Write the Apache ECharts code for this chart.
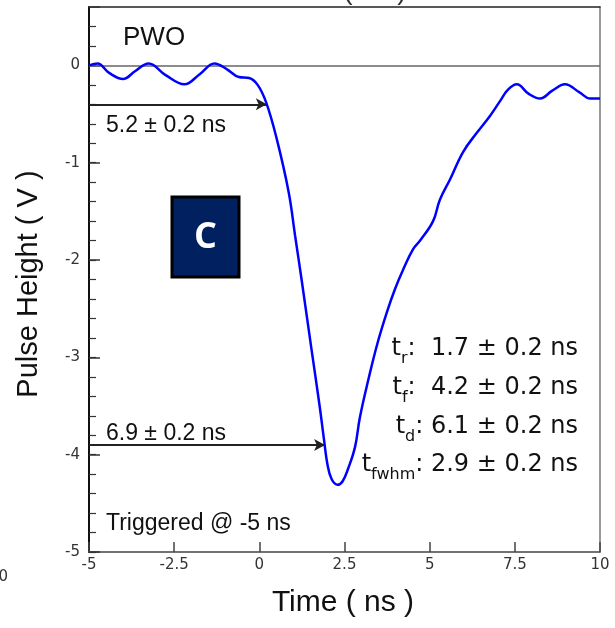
<!DOCTYPE html>
<html>
<head>
<meta charset="utf-8">
<script src="https://cdn.jsdelivr.net/npm/echarts@6/dist/echarts.min.js"></script>
<style>html,body{margin:0;padding:0;background:#fff;}#c{width:615px;height:628px;}</style>
</head>
<body>
<div id="c"></div>
<script>
// ---- data ----
var timeNs = [-5,-4.75,-4.4,-4,-3.65,-3.25,-2.75,-2.2,-1.75,-1.32,-0.95,-0.6,-0.3,-0.05,0.2,0.5,0.86,1.05,1.24,1.52,1.77,1.9,2.0,2.12,2.3,2.45,2.6,2.81,2.95,3.22,3.48,3.75,3.98,4.22,4.51,4.72,5.1,5.3,5.6,5.98,6.39,6.77,7.06,7.3,7.56,7.9,8.24,8.6,8.97,9.41,9.7,10];
var pulseV = [0,0.02,-0.08,-0.14,-0.06,0.02,-0.1,-0.195,-0.09,0.02,-0.04,-0.12,-0.13,-0.2,-0.38,-0.74,-1.3,-1.75,-2.2,-2.89,-3.5,-3.85,-4.1,-4.25,-4.31,-4.27,-4.15,-3.92,-3.62,-3.2,-2.84,-2.53,-2.3,-2.1,-1.89,-1.8,-1.6,-1.38,-1.17,-0.89,-0.69,-0.52,-0.37,-0.25,-0.195,-0.29,-0.34,-0.26,-0.195,-0.28,-0.34,-0.34];
var xTicks = [-5,-2.5,0,2.5,5,7.5,10];
var yTicks = [-5,-4,-3,-2,-1,0];
var arrow10 = [[-5,-0.4],[0.22,-0.4]];
var arrow90 = [[-5,-3.9],[1.93,-3.9]];
var annotations = ['5.2 \u00b1 0.2 ns','6.9 \u00b1 0.2 ns','Triggered @ -5 ns','PWO'];
var timingLines = ['t{s|r}:  1.7 \u00b1 0.2 ns','t{s|f}:  4.2 \u00b1 0.2 ns','t{s|d}: 6.1 \u00b1 0.2 ns','t{s|fwhm}: 2.9 \u00b1 0.2 ns'];

var FONT = '"Liberation Sans", Arial, Helvetica, sans-serif';
var WIDE = '"DejaVu Sans", sans-serif';
var line = [];
for (var i = 0; i < timeNs.length; i++) line.push([timeNs[i], pulseV[i]]);

var chart = echarts.init(document.getElementById('c'), null, {renderer:'canvas'});
var gridRect = {left:89, right:15, top:7, bottom:76};
var xmin = xTicks[0], xmax = xTicks[xTicks.length-1];
var ymin = yTicks[0], ymax = 0.6;

function intLabel(v){ var r = Math.round(v); return Math.abs(v - r) < 1e-6 ? String(r) : ''; }

var option = {
  animation:false,
  backgroundColor:'#fff',
  grid:[Object.assign({}, gridRect), Object.assign({}, gridRect)],
  xAxis:[
    {type:'value', gridIndex:0, position:'bottom', min:xmin, max:xmax, interval:2.5,
     axisLine:{onZero:false, lineStyle:{color:'#444', width:1.5}},
     axisTick:{inside:true, length:10, lineStyle:{color:'#444', width:1.5}},
     axisLabel:{margin:6, color:'#333', fontSize:15, fontFamily:WIDE,
       formatter:function(v){ return String(Math.round(v*10)/10); }},
     splitLine:{show:false}},
    {type:'value', gridIndex:0, position:'top', min:xmin, max:xmax,
     axisLine:{onZero:false, lineStyle:{color:'#222', width:1.5}},
     axisTick:{show:false}, axisLabel:{show:false}, splitLine:{show:false}},
    {type:'value', gridIndex:1, min:xmin, max:xmax, show:false}
  ],
  yAxis:[
    {type:'value', gridIndex:0, position:'left', min:ymin, max:ymax, interval:0.2,
     axisLine:{onZero:false, lineStyle:{color:'#111', width:2}},
     axisTick:{inside:true, length:7, lineStyle:{color:'#333', width:1.2}},
     axisLabel:{margin:9, color:'#333', fontSize:15, fontFamily:WIDE, formatter:intLabel,
       showMaxLabel:false},
     splitLine:{show:false}},
    {type:'value', gridIndex:0, position:'right', min:ymin, max:ymax,
     axisLine:{onZero:false, lineStyle:{color:'#777', width:1.5}},
     axisTick:{show:false}, axisLabel:{show:false}, splitLine:{show:false}},
    {type:'value', gridIndex:1, position:'left', min:ymin, max:ymax, interval:1,
     axisLine:{show:false, onZero:false},
     axisTick:{inside:true, length:11, lineStyle:{color:'#333', width:1.5}},
     axisLabel:{show:false}, splitLine:{show:false}}
  ],
  series:[
    {type:'line', xAxisIndex:0, yAxisIndex:0, data:line, smooth:0.4,
     showSymbol:false, lineStyle:{color:'#0000ff', width:2.5}, z:5,
     markLine:{silent:true, label:{show:false}, animation:false,
       data:[
         [{coord:[xmin,0], symbol:'none', lineStyle:{color:'#666', width:1.5, type:'solid'}},{coord:[xmax,0], symbol:'none'}],
         [{coord:arrow10[0], symbol:'none', lineStyle:{color:'#222', width:2, type:'solid'}},{coord:arrow10[1], symbol:'arrow', symbolSize:[9,11]}],
         [{coord:arrow90[0], symbol:'none', lineStyle:{color:'#222', width:2, type:'solid'}},{coord:arrow90[1], symbol:'arrow', symbolSize:[9,11]}]
       ]}}
  ],
  graphic:[
    {type:'text', x:29, y:284, rotation:Math.PI/2, style:{text:'Pulse Height ( V )', font:'29px '+FONT, fill:'#111', align:'center', verticalAlign:'middle'}},
    {type:'text', x:343, y:603, style:{text:'Time ( ns )', font:'30px '+FONT, fill:'#111', align:'center', verticalAlign:'middle'}},
    {type:'text', x:8, y:577, style:{text:'10', font:'15px '+WIDE, fill:'#333', align:'right', verticalAlign:'middle'}},
    {type:'text', x:348, y:5, style:{text:'(', font:'28px '+FONT, fill:'#333', align:'center', verticalAlign:'bottom'}},
    {type:'text', x:402, y:5, style:{text:')', font:'28px '+FONT, fill:'#333', align:'center', verticalAlign:'bottom'}},
    {type:'text', x:123, y:38, style:{text:annotations[3], font:'26px '+FONT, fill:'#111', align:'left', verticalAlign:'middle'}},
    {type:'text', x:106, y:126, style:{text:annotations[0], font:'23px '+FONT, fill:'#111', align:'left', verticalAlign:'middle'}},
    {type:'text', x:106, y:434, style:{text:annotations[1], font:'23px '+FONT, fill:'#111', align:'left', verticalAlign:'middle'}},
    {type:'text', x:106, y:524, style:{text:annotations[2], font:'23px '+FONT, fill:'#111', align:'left', verticalAlign:'middle'}},
    {type:'group', x:172, y:197, children:[
      {type:'rect', shape:{x:0, y:0, width:67, height:80}, style:{fill:'#002060', stroke:'#000', lineWidth:3}},
      {type:'text', x:33.5, y:41, style:{text:'C', font:'bold 36px "Open Sans", sans-serif', fill:'#fff', align:'center', verticalAlign:'middle'}}
    ]}
  ]
};
var lineY = [331, 370, 409, 447];
for (var k = 0; k < timingLines.length; k++) {
  option.graphic.push({type:'text', x:578, y:lineY[k], style:{
    text:timingLines[k], font:'24px '+WIDE, fontSize:24, fontFamily:WIDE, lineHeight:36, fill:'#111', align:'right', verticalAlign:'top',
    rich:{s:{fontSize:16, fontFamily:WIDE, lineHeight:16, verticalAlign:'bottom', fill:'#111'}}}});
}
chart.setOption(option);
</script>
</body>
</html>
